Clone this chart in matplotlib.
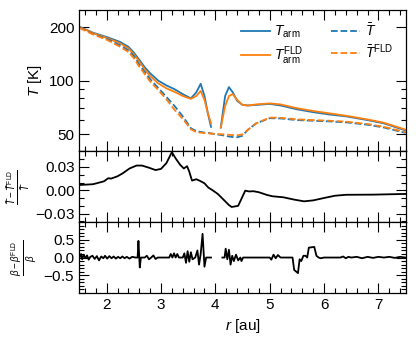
import numpy as np
import matplotlib
matplotlib.use('Agg')
import matplotlib.pyplot as plt
from matplotlib.ticker import MultipleLocator, FixedLocator, NullFormatter, FixedFormatter

# =============================================================================
# Data
# =============================================================================
nan = np.nan

r_T = [1.5, 1.75, 2.0, 2.25, 2.4, 2.5, 2.6, 2.7, 2.8, 2.95, 3.1, 3.25, 3.4, 3.55,
       3.65, 3.73, 3.8, 3.86, 3.92, 4.0, 4.1, 4.18, 4.25, 4.32, 4.4, 4.5, 4.6,
       4.75, 5.0, 5.2, 5.5, 5.8, 6.1, 6.4, 6.8, 7.1, 7.5]

T_arm = [201, 186, 176, 165, 155, 144, 131, 119, 110, 100, 94, 89.5, 84, 79.5,
         86, 96, 82, 66, 55, nan, 54.5, 82, 92, 86, 77, 73, 72.5,
         73, 74, 72.5, 69, 66.5, 64.5, 63, 60, 57.5, 52.5]

T_arm_fld = [200, 185, 174, 162, 152, 141, 128, 116, 106, 96.5, 90.5, 86.5, 82, 79,
             82, 87.5, 78, 66, 57.5, nan, 54.5, 72, 82, 84, 78, 73, 72.5,
             73.5, 74.5, 73.5, 70, 67.5, 65.5, 63.5, 60.5, 58, 53]

T_bar = [199, 183, 172, 158, 148, 138, 123, 112, 102, 91, 81, 72, 63, 54,
         52, 51.5, 51, 50.8, 50.5, 50, 49.5, 49, 48.5, 48.2, 48, 49, 53,
         57.5, 61.5, 61.3, 60, 59.5, 59, 58.3, 56.5, 54.5, 50.8]

T_bar_fld = [198, 182, 170, 155, 145, 134, 120, 109, 99, 88.5, 78.5, 68.5, 61, 53.3,
             51.3, 51, 50.7, 50.6, 50.4, 50.1, 50, 49.8, 49.6, 49.4, 49.3, 49.8, 53,
             57.5, 62, 61.8, 60.6, 60, 59.5, 58.8, 57, 55, 51.3]

r_dT = [1.5, 1.75, 1.95, 2.03, 2.08, 2.2, 2.3, 2.42, 2.55, 2.65, 2.78, 2.9, 3.0,
        3.1, 3.2, 3.27, 3.35, 3.42, 3.48, 3.52, 3.57, 3.65, 3.72, 3.8, 3.87,
        3.95, 4.05, 4.15, 4.25, 4.3, 4.42, 4.5, 4.55, 4.62, 4.7, 4.8, 4.95,
        5.05, 5.25, 5.45, 5.63, 5.8, 6.0, 6.2, 6.4, 6.9, 7.5]
dT_rel = [0.0068, 0.0078, 0.0115, 0.0155, 0.0150, 0.018, 0.022, 0.028, 0.0318,
          0.0318, 0.029, 0.026, 0.0275, 0.035, 0.049, 0.041, 0.033, 0.028, 0.031,
          0.024, 0.0125, 0.0142, 0.012, 0.009, 0.0035, 0.0, -0.005, -0.012,
          -0.019, -0.0215, -0.020, -0.008, -0.0005, -0.0015, -0.0012, -0.0025,
          -0.006, -0.0077, -0.009, -0.012, -0.0142, -0.013, -0.0099, -0.007,
          -0.0058, -0.0056, -0.0047]

r_beta = [1.50, 1.53, 1.55, 1.58, 1.61, 1.64, 1.67, 1.70, 1.74, 1.78, 1.82, 1.86,
          1.90, 1.94, 1.97, 2.01, 2.05, 2.09, 2.13, 2.17, 2.21, 2.25, 2.29, 2.33,
          2.37, 2.42, 2.47, 2.53, 2.57, 2.585, 2.61, 2.63, 2.7, 2.74, 2.78, 2.82,
          2.86, 2.90, 2.94, 3.15, 3.18, 3.21, 3.24, 3.27, 3.30, 3.33, 3.40, 3.43,
          3.46, 3.49, 3.52, 3.55, 3.58, 3.63, 3.67, 3.70, 3.73, 3.765, 3.80, 3.83,
          3.92, 3.96, 4.13, 4.17, 4.19, 4.22, 4.25, 4.28, 4.31, 4.34, 4.38, 4.42,
          4.46, 4.48, 4.51, 5.0, 5.03, 5.07, 5.11, 5.15, 5.2, 5.25, 5.42, 5.45,
          5.52, 5.55, 5.58, 5.62, 5.66, 5.69, 5.72, 5.82, 5.86, 5.9, 5.94, 6.0,
          6.3, 6.35, 6.4, 6.45, 6.5, 6.6, 6.7, 6.8, 6.9, 7.0, 7.1, 7.2, 7.3, 7.4, 7.5]
dbeta_rel = [0.0, 0.10, -0.05, 0.08, -0.02, 0.06, -0.06, 0.02, 0.05, -0.04, 0.04, -0.08,
             0.03, -0.02, 0.05, -0.03, 0.04, -0.02, 0.03, -0.03, 0.02, -0.02, 0.03, -0.02,
             0.02, -0.03, 0.02, 0.0, 0.0, 0.47, -0.28, 0.0, 0.0, 0.05, -0.05, 0.0,
             0.06, -0.04, 0.0, 0.0, 0.1, 0.0, 0.12, 0.0, 0.1, 0.0, 0.0, 0.12,
             -0.15, 0.18, -0.12, 0.15, -0.05, 0.0, 0.2, -0.2, 0.1, 0.67, -0.26, 0.0,
             0.0, nan, 0.0, 0.0, 0.25, -0.05, 0.22, -0.2, 0.05, -0.1, 0.08, -0.08,
             0.0, -0.1, 0.0, 0.0, -0.06, 0.08, -0.02, 0.07, 0.0, 0.0, 0.0, -0.35,
             -0.44, -0.05, -0.1, 0.05, 0.05, 0.0, 0.28, 0.3, 0.05, 0.0, -0.02, 0.0,
             0.0, 0.03, -0.02, 0.02, 0.0, 0.02, -0.02, 0.02, -0.01, 0.02, 0.0, 0.02, -0.01, 0.02, 0.0]

# =============================================================================
# Style
# =============================================================================
plt.rcParams['font.family'] = ['Liberation Sans', 'DejaVu Sans']
plt.rcParams['mathtext.fontset'] = 'custom'
plt.rcParams['mathtext.rm'] = 'Liberation Sans'
plt.rcParams['mathtext.it'] = 'Liberation Sans:italic'
plt.rcParams['mathtext.bf'] = 'Liberation Sans:bold'
plt.rcParams['font.size'] = 11
plt.rcParams['axes.linewidth'] = 0.9

blue = '#1f77b4'
orange = '#ff7f0e'

fig = plt.figure(figsize=(4.16, 3.41), dpi=100)
gs = fig.add_gridspec(3, 1, height_ratios=[2, 1, 1], hspace=0,
                      left=0.191, right=0.975, top=0.971, bottom=0.141)
ax1 = fig.add_subplot(gs[0])
ax2 = fig.add_subplot(gs[1], sharex=ax1)
ax3 = fig.add_subplot(gs[2], sharex=ax1)

# Top panel
ax1.plot(r_T, T_arm, color=blue, lw=1.3, label=r'$T_{\rm arm}$')
ax1.plot(r_T, T_arm_fld, color=orange, lw=1.3, label=r'$T_{\rm arm}^{\rm FLD}$')
ax1.plot(r_T, T_bar, color=blue, lw=1.3, ls='--', label=r'$\bar{T}$')
ax1.plot(r_T, T_bar_fld, color=orange, lw=1.3, ls='--', label=r'$\bar{T}^{\rm FLD}$')
ax1.set_yscale('log')
ax1.set_ylim(40, 250)
ax1.yaxis.set_major_locator(FixedLocator([50, 100, 200]))
ax1.yaxis.set_major_formatter(FixedFormatter(['50', '100', '200']))
ax1.yaxis.set_minor_locator(FixedLocator([40, 60, 70, 80, 90, 300]))
ax1.yaxis.set_minor_formatter(NullFormatter())
ax1.set_ylabel(r'$T$ [K]')
ax1.legend(ncol=2, frameon=False, loc='upper right', fontsize=10,
           handlelength=2.1, handletextpad=0.3, columnspacing=2.0,
           labelspacing=0.25, borderaxespad=0.5)

# Middle panel
ax2.plot(r_dT, dT_rel, color='k', lw=1.3)
ax2.set_ylim(-0.041, 0.05)
ax2.yaxis.set_major_locator(FixedLocator([-0.03, 0.0, 0.03]))
ax2.yaxis.set_major_formatter(FixedFormatter([r'$-0.03$', '0.00', '0.03']))
ax2.yaxis.set_minor_locator(MultipleLocator(0.01))
ax2.set_ylabel(r'$\frac{\bar{T}-\bar{T}^{\rm FLD}}{\bar{T}}$', fontsize=10, labelpad=2)

# Bottom panel
ax3.plot(r_beta, dbeta_rel, color='k', lw=1.3)
ax3.set_ylim(-1, 1)
ax3.yaxis.set_major_locator(FixedLocator([-0.5, 0.0, 0.5]))
ax3.yaxis.set_major_formatter(FixedFormatter([r'$-0.5$', '0.0', '0.5']))
ax3.yaxis.set_minor_locator(MultipleLocator(0.1))
ax3.set_ylabel(r'$\frac{\beta-\beta^{\rm FLD}}{\beta}$', fontsize=10, labelpad=3)
ax3.set_xlabel(r'$r$ [au]')

ax1.set_xlim(1.5, 7.5)
ax3.xaxis.set_major_locator(MultipleLocator(1))
ax3.xaxis.set_minor_locator(MultipleLocator(0.2))

for ax in (ax1, ax2, ax3):
    ax.tick_params(which='both', direction='in', top=True, right=True)
    ax.tick_params(which='major', length=7, width=0.8)
    ax.tick_params(which='minor', length=3.5, width=0.8)
for ax in (ax1, ax2):
    ax.tick_params(labelbottom=False)

fig.savefig('out.png', dpi=100)
